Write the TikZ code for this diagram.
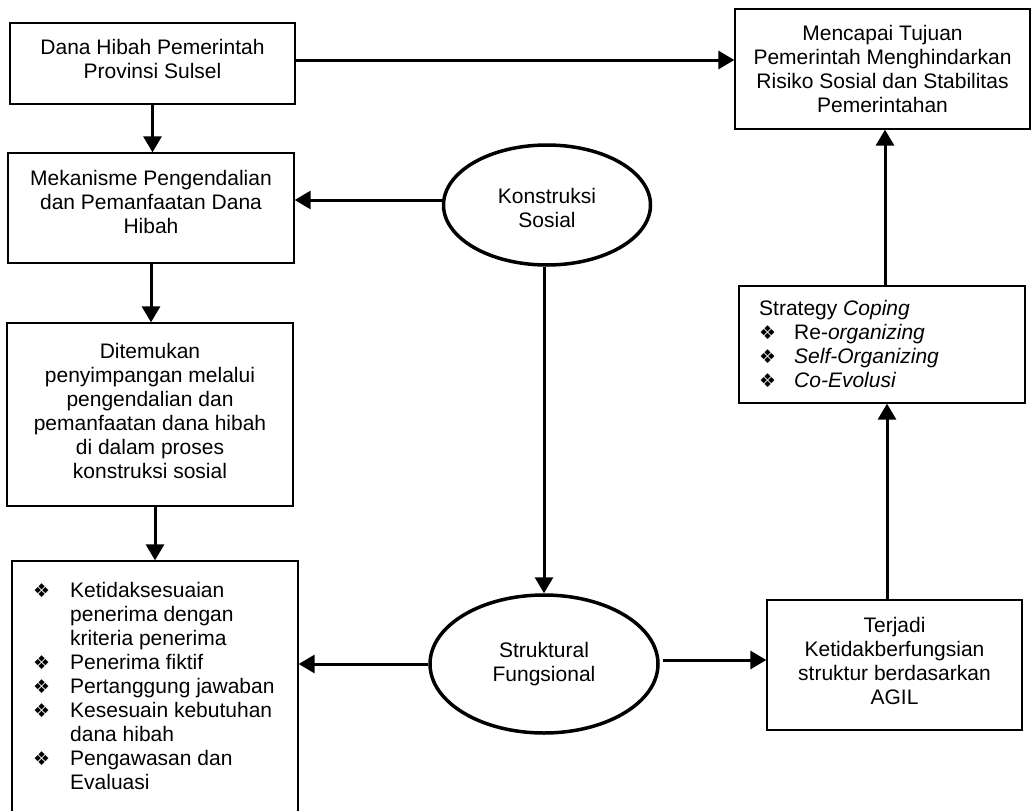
\documentclass[tikz,border=0pt]{standalone}
\usepackage{fontspec}
\setmainfont{Liberation Sans}
\newfontfamily\dejavu{DejaVu Sans}
\usetikzlibrary{arrows.meta,shapes.geometric}
\newcommand{\fs}{\fontsize{21}{24}\selectfont}
\newcommand{\bulA}{\makebox[37pt][l]{{\fontsize{19}{19}\dejavu ❖}}}
\newcommand{\bulB}{\makebox[35pt][l]{{\fontsize{19}{19}\dejavu ❖}}}
\begin{document}
\begin{tikzpicture}[x=1pt,y=-1pt,
  every node/.style={font=\fs},
  box/.style={draw, line width=1.3pt, rectangle, inner sep=0pt, align=center},
  txt/.style={inner sep=0pt, align=center},
  oval/.style={draw, ellipse, line width=3.5pt, inner sep=0pt, align=center},
  arr/.style={line width=3pt, -{Triangle[length=16pt,width=18pt]}}
]
\useasboundingbox (0,0) rectangle (1031,811);

% boxes
\node[box, minimum width=285pt, minimum height=81pt] (b1) at (152.5,63.5) {};
\node[txt] (b1t) at (152.5,59) {Dana Hibah Pemerintah\\Provinsi Sulsel};
\node[box, minimum width=286pt, minimum height=110pt] (b2) at (151,208) {};
\node[txt] (b2t) at (151,202) {Mekanisme Pengendalian\\dan Pemanfaatan Dana\\Hibah};
\node[box, minimum width=286pt, minimum height=183pt] (b3) at (150,414.5) {};
\node[txt] (b3t) at (150,410.5)
  {Ditemukan\\penyimpangan melalui\\pengendalian dan\\pemanfaatan dana hibah\\di dalam proses\\konstruksi sosial};
\node[box, minimum width=286pt, minimum height=270pt] (b4) at (155,696) {};
\node[anchor=base west, inner sep=0pt] (b4t) at (33,597) {%
  \begin{tabular}[t]{@{}l@{}}
  \bulA Ketidaksesuaian\\
  \hspace*{37pt}penerima dengan\\
  \hspace*{37pt}kriteria penerima\\
  \bulA Penerima fiktif\\
  \bulA Pertanggung jawaban\\
  \bulA Kesesuain kebutuhan\\
  \hspace*{37pt}dana hibah\\
  \bulA Pengawasan dan\\
  \hspace*{37pt}Evaluasi
  \end{tabular}};

\node[box, minimum width=295pt, minimum height=120pt] (goal) at (882.5,69)
  {Mencapai Tujuan\\Pemerintah Menghindarkan\\Risiko Sosial dan Stabilitas\\Pemerintahan};
\node[box, minimum width=286pt, minimum height=117pt] (strat) at (882,344.5) {};
\node[anchor=base west, inner sep=0pt] (stratt) at (759,315) {%
  \begin{tabular}[t]{@{}l@{}}
  Strategy \textit{Coping}\\
  \bulB Re-\textit{organizing}\\
  \bulB \textit{Self-Organizing}\\
  \bulB \textit{Co-Evolusi}
  \end{tabular}};
\node[box, minimum width=255pt, minimum height=130pt] (terj) at (894.5,665) {};
\node[txt] (terjt) at (894.5,661) {Terjadi\\Ketidakberfungsian\\struktur berdasarkan\\AGIL};

% ellipses
\node[oval, minimum width=207pt, minimum height=120pt] (kons) at (547,205) {};
\node[txt] (konst) at (547,208) {Konstruksi\\Sosial};
\node[oval, minimum width=228pt, minimum height=138pt] (struk) at (544,664)
  {Struktural\\Fungsional};

% connectors
\draw[arr] ([yshift=3.5pt]b1.east) -- ([yshift=3.5pt]b1.east -| goal.west);
\draw[arr] (b1.south) -- (b1.south |- b2.north);
\draw[arr] (b2.south) -- (b2.south |- b3.north);
\draw[arr] (b4.north |- b3.south) -- (b4.north);
\draw[arr] ([yshift=5pt]kons.west) -- ([yshift=5pt]kons.west -| b2.east);
\draw[arr] (kons.south -| struk.north) -- (struk.north);
\draw[arr] (struk.west) -- (struk.west -| b4.east);
\draw[arr] ([yshift=4pt,xshift=3pt]struk.east) -- ([yshift=4pt]struk.east -| terj.west);
\draw[arr] ([xshift=-7.5pt]terj.north) -- ([xshift=-7.5pt]terj.north |- strat.south);
\draw[arr] ([xshift=3pt]strat.north) -- ([xshift=3pt]strat.north |- goal.south);
\end{tikzpicture}
\end{document}
